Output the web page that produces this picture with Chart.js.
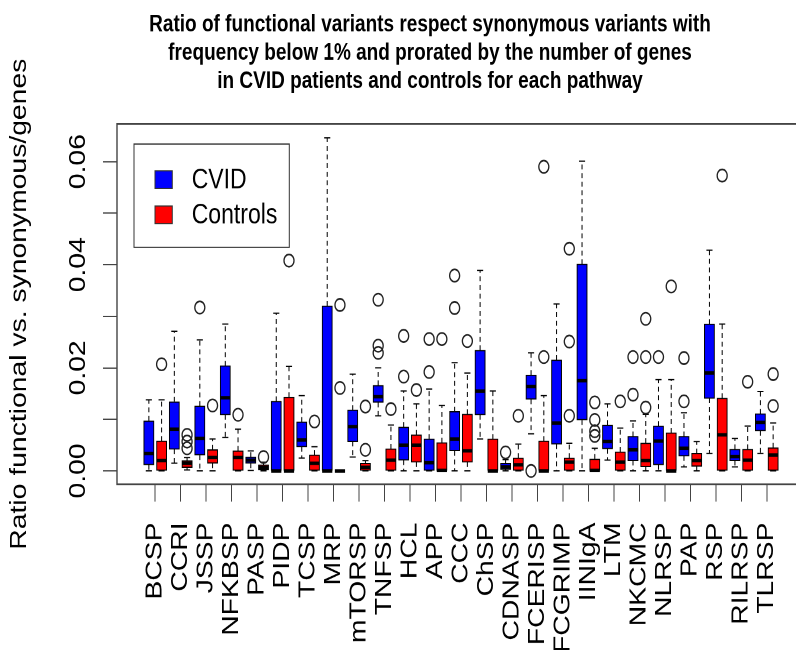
<!DOCTYPE html>
<html><head><meta charset="utf-8">
<script src="https://cdn.jsdelivr.net/npm/chart.js@4/dist/chart.umd.min.js"></script>
<style>
html,body{margin:0;padding:0;overflow:hidden;background:#fff;width:796px;height:650px}
#wrap{position:absolute;left:0;top:0;width:820px;height:528px;transform:scaleY(1.23106);transform-origin:0 0}
</style></head><body>
<div id="wrap"><canvas id="c" width="820" height="528"></canvas></div>
<script>
// ---------------- data ----------------
const categories = ['BCSP','CCRI','JSSP','NFKBSP','PASP','PIDP','TCSP','MRP','mTORSP','TNFSP','HCL','APP','CCC','ChSP','CDNASP','FCERISP','FCGRIMP','IINIgA','LTM','NKCMC','NLRSP','PAP','RSP','RILRSP','TLRSP'];

const cvidLow    = [0,      0.0015, 0,      0.0065, 0.0001, 0,      0.0025, 0,      0.0027, 0.0107, 0,      0,      0,      0.0062, 0,      0.0072, 0,      0,      0.0021, 0,      0,      0.0008, 0.0034, 0.0008, 0.0034];
const cvidQ1     = [0.0012, 0.0042, 0.0031, 0.0109, 0.0015, 0,      0.0047, 0,      0.0057, 0.0133, 0.0021, 0,      0.0039, 0.0109, 0.0003, 0.0139, 0.0052, 0.0099, 0.0043, 0.0020, 0.0012, 0.0029, 0.0141, 0.0020, 0.0078];
const cvidMedian = [0.0034, 0.0081, 0.0063, 0.0142, 0.0021, 0,      0.0060, 0,      0.0086, 0.0144, 0.0050, 0.0016, 0.0062, 0.0155, 0.0008, 0.0164, 0.0093, 0.0175, 0.0057, 0.0041, 0.0058, 0.0044, 0.0190, 0.0028, 0.0094];
const cvidQ3     = [0.0097, 0.0134, 0.0126, 0.0204, 0.0027, 0.0135, 0.0095, 0.0320, 0.0118, 0.0166, 0.0085, 0.0062, 0.0115, 0.0234, 0.0015, 0.0186, 0.0215, 0.0401, 0.0089, 0.0067, 0.0087, 0.0067, 0.0285, 0.0042, 0.0111];
const cvidHigh   = [0.0138, 0.0271, 0.0254, 0.0285, 0.0039, 0.0306, 0.0146, 0.0646, 0.0188, 0.0200, 0.0155, 0.0159, 0.0210, 0.0389, 0.0022, 0.0229, 0.0324, 0.0601, 0.0130, 0.0097, 0.0177, 0.0113, 0.0428, 0.0063, 0.0154];
const cvidOutliers = [[], [], [0.0317], [], [], [], [], [], [], [0.0332,0.0243,0.0229], [0.0262,0.0183], [0.0256,0.0192], [0.0379,0.0316], [], [0.0036], [0], [], [], [], [0.0221,0.0148], [0.0221], [0.0219,0.0135], [], [], []];

const ctrlLow    = [0,      0.0002, 0,      0,      0,      0,      0,      0,      0,      0,      0,      0,      0,      0,      0,      0,      0,      0,      0,      0,      0,      0,      0,      0,      0];
const ctrlQ1     = [0,      0.0007, 0.0015, 0,      0.0002, 0,      0,      0,      0,      0,      0.0017, 0,      0.0017, 0,      0,      0,      0,      0,      0,      0.0008, 0,      0.0009, 0,      0,      0];
const ctrlMedian = [0.0020, 0.0015, 0.0026, 0.0026, 0.0007, 0,      0.0015, 0,      0.0007, 0.0021, 0.0050, 0.0001, 0.0039, 0,      0.0012, 0,      0.0017, 0.0001, 0.0017, 0.0020, 0,      0.0020, 0.0070, 0.0021, 0.0031];
const ctrlQ3     = [0.0058, 0.0020, 0.0041, 0.0039, 0.0012, 0.0143, 0.0031, 0,      0.0015, 0.0043, 0.0070, 0.0055, 0.0110, 0.0062, 0.0025, 0.0058, 0.0025, 0.0023, 0.0037, 0.0054, 0.0074, 0.0034, 0.0141, 0.0042, 0.0045];
const ctrlHigh   = [0.0138, 0.0026, 0.0062, 0.0081, 0.0017, 0.0203, 0.0047, 0,      0.0020, 0.0089, 0.0130, 0.0127, 0.0190, 0.0155, 0.0052, 0.0146, 0.0054, 0.0044, 0.0083, 0.0110, 0.0177, 0.0057, 0.0285, 0.0087, 0.0093];
const ctrlOutliers = [[0.0207], [0.0070,0.0057,0.0044], [0.0127], [0.0109], [0.0027], [0.0408], [0.0096], [0.0322,0.0161], [0.0125,0.0041], [0.0120], [0.0157], [0.0256], [0.0252], [], [0.0107], [0.0590,0.0221], [0.0431,0.0251,0.0107], [0.0133,0.0099,0.0077,0.0068], [0.0135], [0.0295,0.0221,0.0123], [0.0358], [], [0.0573], [0.0173], [0.0188,0.0126]];

const yTickValues  = [0, 0.01, 0.02, 0.03, 0.04, 0.05, 0.06];
const yLabelValues = [0, 0.02, 0.04, 0.06];
const yTickLabels  = ['0.00', '0.02', '0.04', '0.06'];
const seriesNames  = ['CVID', 'Controls'];
const titleLines   = ['Ratio of functional variants respect synonymous variants with',
                      'frequency below 1% and prorated by the number of genes',
                      'in CVID patients and controls for each pathway'];
const yTitle = 'Ratio functional vs. synonymous/genes';

// ---------------- styling / layout ----------------
const BLUE = '#0000ff', RED = '#ff0000';
const OFF = 0.25, HALF = 0.2, STAPLE = 0.12;
const FONT = "'Liberation Sans', Arial, Helvetica, sans-serif";
Chart.defaults.font.family = FONT;
Chart.defaults.color = '#000';

const groups = [
  {off: -OFF, low: cvidLow, q1: cvidQ1, med: cvidMedian, q3: cvidQ3, high: cvidHigh, out: cvidOutliers},
  {off:  OFF, low: ctrlLow, q1: ctrlQ1, med: ctrlMedian, q3: ctrlQ3, high: ctrlHigh, out: ctrlOutliers}
];

const boxData = g => categories.map((c, i) => ({x: i + g.off, y: [g.q1[i], g.q3[i]]}));
const outData = [];
groups.forEach(g => categories.forEach((c, i) => g.out[i].forEach(v => outData.push({x: i + g.off, y: v}))));

const boxPlugin = {
  id: 'boxparts',
  beforeDatasetsDraw(chart) {
    const {ctx, scales: {x, y}} = chart;
    const unit = x.getPixelForValue(1) - x.getPixelForValue(0);
    ctx.save();
    ctx.strokeStyle = '#000';
    ctx.lineWidth = 1;
    groups.forEach(g => categories.forEach((c, i) => {
      const px = x.getPixelForValue(i + g.off);
      const st = STAPLE * unit;
      ctx.setLineDash([4, 3]);
      ctx.beginPath();
      ctx.moveTo(px, y.getPixelForValue(g.q3[i])); ctx.lineTo(px, y.getPixelForValue(g.high[i]));
      ctx.moveTo(px, y.getPixelForValue(g.q1[i])); ctx.lineTo(px, y.getPixelForValue(g.low[i]));
      ctx.stroke();
      ctx.setLineDash([]);
      ctx.beginPath();
      [g.high[i], g.low[i]].forEach(v => {
        const py = y.getPixelForValue(v);
        ctx.moveTo(px - st, py); ctx.lineTo(px + st, py);
      });
      ctx.stroke();
    }));
    ctx.restore();
  },
  afterDatasetsDraw(chart) {
    const {ctx, scales: {x, y}} = chart;
    const unit = x.getPixelForValue(1) - x.getPixelForValue(0);
    ctx.save();
    ctx.strokeStyle = '#000';
    ctx.lineWidth = 2.8;
    ctx.lineCap = 'butt';
    groups.forEach(g => categories.forEach((c, i) => {
      const px = x.getPixelForValue(i + g.off);
      const py = y.getPixelForValue(g.med[i]);
      ctx.beginPath();
      ctx.moveTo(px - HALF * unit, py); ctx.lineTo(px + HALF * unit, py);
      ctx.stroke();
    }));
    ctx.restore();
  },
  afterDraw(chart) {
    const {ctx, chartArea: a, scales: {y}} = chart;
    ctx.save();
    // frame
    ctx.strokeStyle = '#444';
    ctx.lineWidth = 1.4;
    ctx.strokeRect(a.left, a.top, a.right - a.left, a.bottom - a.top);
    // y tick labels (rotated, as in R)
    ctx.fillStyle = '#000';
    ctx.font = '23px ' + FONT;
    ctx.textAlign = 'center';
    ctx.textBaseline = 'alphabetic';
    yLabelValues.forEach((v, k) => {
      ctx.save();
      ctx.translate(85, y.getPixelForValue(v));
      ctx.rotate(-Math.PI / 2);
      ctx.fillText(yTickLabels[k], 0, 0);
      ctx.restore();
    });
    // title
    ctx.font = 'bold 19px ' + FONT;
    ctx.textAlign = 'center';
    titleLines.forEach((t, k) => ctx.fillText(t, 430, 25.7 + 23 * k));
    // legend
    ctx.lineWidth = 1;
    ctx.strokeStyle = '#333';
    ctx.strokeRect(134, 117, 155.3, 83.9);
    const cols = [BLUE, RED];
    const sq = [138.7, 167.3];
    const base = [153, 181.4];
    ctx.font = '23px ' + FONT;
    ctx.textAlign = 'left';
    seriesNames.forEach((n, k) => {
      ctx.fillStyle = cols[k];
      ctx.fillRect(155, sq[k], 17.3, 14.3);
      ctx.strokeRect(155, sq[k], 17.3, 14.3);
      ctx.fillStyle = '#000';
      ctx.fillText(n, 191.7, base[k]);
    });
    ctx.restore();
  }
};

new Chart(document.getElementById('c'), {
  type: 'bar',
  data: {
    datasets: [
      {label: seriesNames[0], data: boxData(groups[0]), backgroundColor: BLUE, borderColor: '#000', borderWidth: 1, borderSkipped: false, grouped: false, barThickness: 10.2},
      {label: seriesNames[1], data: boxData(groups[1]), backgroundColor: RED, borderColor: '#000', borderWidth: 1, borderSkipped: false, grouped: false, barThickness: 10.2},
      {type: 'scatter', label: 'outliers', data: outData, pointStyle: 'circle', pointRadius: 5, pointBorderWidth: 1.3,
       pointBackgroundColor: 'rgba(0,0,0,0)', pointBorderColor: '#222', showLine: false}
    ]
  },
  options: {
    responsive: false,
    devicePixelRatio: 2,
    animation: false,
    layout: {padding: {top: 100.7, right: 15, bottom: 0, left: 0}},
    plugins: {legend: {display: false}, tooltip: {enabled: false}, title: {display: false}},
    scales: {
      x: {
        type: 'linear', min: -1.5, max: 25.5, offset: false,
        afterBuildTicks: s => { s.ticks = categories.map((c, i) => ({value: i})); },
        afterFit: s => { s.height = 134.6; },
        ticks: {autoSkip: false, minRotation: 90, maxRotation: 90, padding: 17, labelOffset: 0,
                font: {size: 23}, color: '#000',
                callback: v => categories[v] !== undefined ? categories[v] : ''},
        grid: {display: true, offset: false, drawOnChartArea: false, drawTicks: true, tickLength: 14, color: '#444', lineWidth: 1},
        border: {display: false}
      },
      y: {
        type: 'linear', min: -0.00259, max: 0.0673,
        afterBuildTicks: s => { s.ticks = yTickValues.map(v => ({value: v})); },
        afterFit: s => { s.width = 117; },
        ticks: {display: false},
        grid: {display: true, drawOnChartArea: false, drawTicks: true, tickLength: 14, color: '#444', lineWidth: 1},
        border: {display: false},
        title: {display: true, text: yTitle, font: {size: 23}, color: '#000', padding: {top: 6, bottom: 0}}
      }
    }
  },
  plugins: [boxPlugin]
});
</script>
</body></html>
